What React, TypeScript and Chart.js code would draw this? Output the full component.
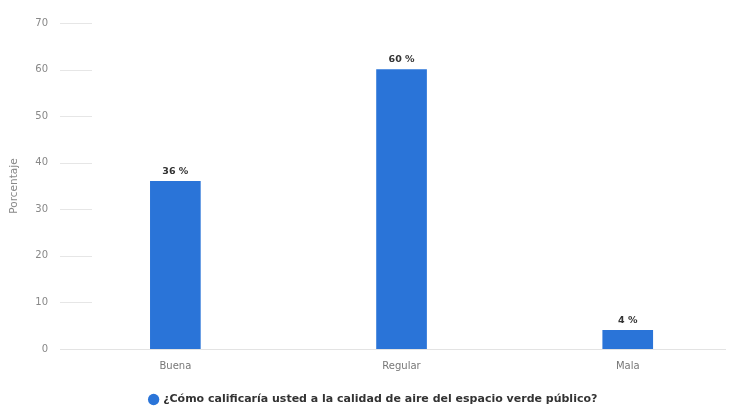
import React, { useEffect, useRef } from "react";
import { Chart, registerables } from "chart.js";

Chart.register(...registerables);

const categories = ["Buena", "Regular", "Mala"];
const values = [36, 60, 4];
const yTicks = [0, 10, 20, 30, 40, 50, 60, 70];
const seriesLabel = "¿Cómo calificaría usted a la calidad de aire del espacio verde público?";

const BLUE = "#2a74d8";
const FONT = "'DejaVu Sans', Verdana, sans-serif";

const shortGrid = {
  id: "shortGrid",
  beforeDatasetsDraw(chart: any) {
    const { ctx, chartArea, scales } = chart;
    const y = scales.y;
    ctx.save();
    ctx.strokeStyle = "#e6e6e6";
    ctx.lineWidth = 1;
    yTicks.forEach((t) => {
      if (t === 0) return;
      const py = Math.round(y.getPixelForValue(t)) + 0.5;
      ctx.beginPath();
      ctx.moveTo(chartArea.left, py);
      ctx.lineTo(chartArea.left + 32, py);
      ctx.stroke();
    });
    ctx.restore();
  },
};

const valueLabels = {
  id: "valueLabels",
  afterDatasetsDraw(chart: any) {
    const { ctx } = chart;
    const meta = chart.getDatasetMeta(0);
    ctx.save();
    ctx.font = `bold 9.5px ${FONT}`;
    ctx.fillStyle = "#333333";
    ctx.textAlign = "center";
    ctx.textBaseline = "bottom";
    meta.data.forEach((el: any, i: number) => {
      ctx.fillText(`${values[i]} %`, el.x, el.y - 5);
    });
    ctx.restore();
  },
};

export default function App() {
  const ref = useRef<HTMLCanvasElement>(null);
  useEffect(() => {
    if (!ref.current) return;
    const chart = new Chart(ref.current, {
      type: "bar",
      data: {
        datasets: [
          {
            label: seriesLabel,
            data: values.map((v, i) => ({ x: i, y: v })),
            backgroundColor: BLUE,
            borderWidth: 0,
            barThickness: 50,
          },
        ],
      },
      options: {
        animation: false,
        responsive: false,
        maintainAspectRatio: false,
        layout: { padding: { left: 22, right: 4, top: 23, bottom: -8 } },
        scales: {
          x: {
            type: "linear",
            offset: false,
            min: -0.51,
            max: 2.43,
            afterBuildTicks(scale: any) {
              scale.ticks = categories.map((_, i) => ({ value: i }));
            },
            afterFit(scale: any) {
              scale.height = 42;
            },
            ticks: {
              autoSkip: false,
              color: "#777777",
              font: { size: 10, family: FONT },
              padding: 3,
              callback: (v: any) => categories[v] ?? "",
            },
            grid: { display: false },
            border: { display: true, color: "#e3e3e3" },
          },
          y: {
            min: 0,
            max: 70,
            afterBuildTicks(scale: any) {
              scale.ticks = yTicks.map((v) => ({ value: v }));
            },
            afterFit(scale: any) {
              scale.width = 38;
            },
            ticks: {
              color: "#888888",
              font: { size: 10, family: FONT },
              padding: 4,
            },
            grid: { display: false },
            border: { display: false },
            title: {
              display: true,
              text: "Porcentaje",
              color: "#888888",
              font: { size: 10.5, family: FONT },
              padding: { top: -14, bottom: 0 },
            },
          },
        },
        plugins: {
          legend: {
            position: "bottom",
            labels: {
              usePointStyle: true,
              pointStyle: "circle",
              boxWidth: 8,
              boxHeight: 8,
              color: "#333333",
              font: { size: 11, weight: "bold", family: FONT },
              padding: 3,
            },
          },
          tooltip: { enabled: false },
        },
      },
      plugins: [shortGrid, valueLabels],
    } as any);
    return () => chart.destroy();
  }, []);
  return (
    <div style={{ position: "fixed", left: 0, top: 0, width: 729, height: 407, background: "#fff" }}>
      <canvas ref={ref} width={729} height={407} style={{ width: 729, height: 407 }} />
    </div>
  );
}
